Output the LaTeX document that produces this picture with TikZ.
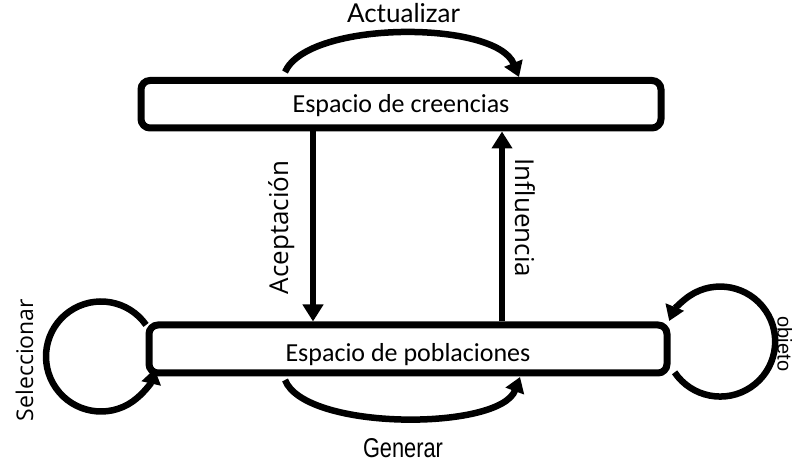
\documentclass[tikz,border=0pt]{standalone}
\usepackage{fontspec}
\usetikzlibrary{arrows.meta}
\newfontfamily\carl{Carlito}
\newfontfamily\osans{Open Sans}
\newfontfamily\latof{Lato}
\newfontfamily\lsans{Liberation Sans}
\begin{document}
\begin{tikzpicture}[x=1pt,y=1pt,
  spacebox/.style={draw=black, line width=7pt, rounded corners=9pt, fill=white,
    inner sep=0pt, font=\carl\fontsize{26}{30}\selectfont},
  arr/.style={line width=6pt, -{Triangle[length=17pt,width=20pt]}},
  carr/.style={line width=6.5pt, -{Triangle[length=15pt,width=19pt]}},
  lbl/.style={inner sep=0pt, anchor=base}]
\useasboundingbox[fill=white] (0,0) rectangle (794,468);
% boxes
\node[spacebox, minimum width=520pt, minimum height=47.5pt, text height=18pt, text depth=2pt]
  (top) at (401,363.75) {Espacio de creencias};
\node[spacebox, minimum width=518pt, minimum height=48pt, text height=26pt, text depth=0pt]
  (bot) at (408,119) {Espacio de poblaciones};
% vertical arrows
\draw[arr] ([xshift=-88pt]top.south) -- ([xshift=-95pt]bot.north);
\draw[arr] ([xshift=94pt]bot.north) -- ([xshift=101pt]top.south);
% Actualizar arc
\coordinate (a1) at (285,396);
\coordinate (a2) at (519,391);
\draw[carr] (a1) .. controls (308,448) and (496,448) .. (a2);
% Generar arc
\coordinate (g1) at (285,88);
\coordinate (g2) at (520,91);
\draw[carr] (g1) .. controls (305,37) and (500,37) .. (g2);
% loops
\coordinate (lc) at (101,111.5);
\draw[carr] ([shift={(35:55)}]lc) arc[start angle=35, end angle=347, radius=55];
\coordinate (rc) at (721,127);
\draw[carr] ([shift={(214:56)}]rc) arc[start angle=214, end angle=518, radius=55];
% labels
\node[lbl, font=\latof\fontsize{26}{30}\selectfont] (lact) at (403.5,445) {Actualizar};
\node[lbl] (lgen) at (403,11) {\resizebox{80pt}{19pt}{\lsans Generar}};
\node[lbl, rotate=90, font=\osans\fontsize{26}{30}\selectfont] (lacep) at (288,240.5) {Aceptación};
\node[lbl, rotate=-90, font=\osans\fontsize{26}{30}\selectfont] (linf) at (515,250) {Influencia};
\node[lbl, rotate=90, font=\osans\fontsize{23}{27}\selectfont] (lsel) at (33,108) {Seleccionar};
\node[lbl, rotate=-90, font=\lsans\fontsize{20}{24}\selectfont] (lobj) at (777.5,124) {objeto};
\end{tikzpicture}
\end{document}
